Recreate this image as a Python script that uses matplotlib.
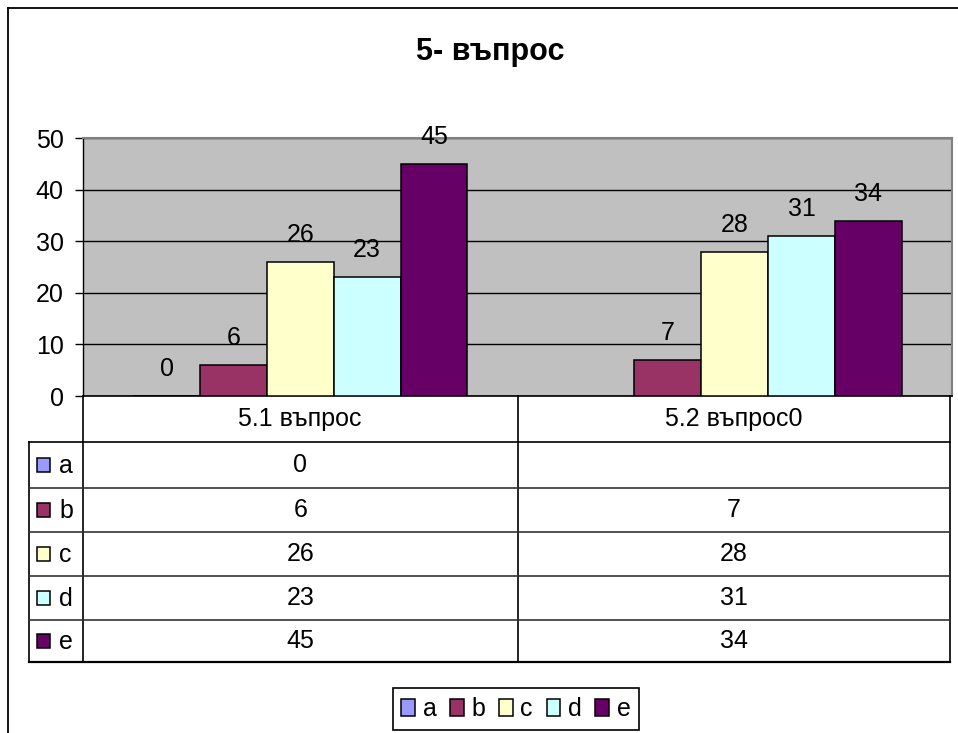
import numpy as np
import matplotlib
matplotlib.use("Agg")
import matplotlib.pyplot as plt
from matplotlib.lines import Line2D
from matplotlib.patches import Rectangle

plt.rcParams['font.family'] = ['Liberation Sans', 'DejaVu Sans']

# ---- data ----
title = "5- въпрос"
categories = ["5.1 въпрос", "5.2 въпрос0"]
series = ["a", "b", "c", "d", "e"]
values_a = [0, None]
values_b = [6, 7]
values_c = [26, 28]
values_d = [23, 31]
values_e = [45, 34]
colors = ["#9999FF", "#993366", "#FFFFCC", "#CCFFFF", "#660066"]
yticks = [0, 10, 20, 30, 40, 50]

all_values = [values_a, values_b, values_c, values_d, values_e]

W, H = 958, 733
fig = plt.figure(figsize=(W / 100, H / 100), dpi=100)
fig.patch.set_facecolor("white")


def fx(x):
    return x / W


def fy(y):
    return 1 - y / H


FS = 18

# chart area border (left and top)
fig.add_artist(Line2D([fx(8), fx(8)], [fy(8), fy(H + 5)], color="black", lw=1.3))
fig.add_artist(Line2D([fx(8), fx(W + 5)], [fy(8), fy(8)], color="black", lw=1.3))

# title
fig.text(fx(490), fy(52), title, ha="center", va="center", fontsize=22, fontweight="bold")

# plot area
L, R, T, B = 83, 952, 138, 396
ax = fig.add_axes([fx(L), fy(B), fx(R - L), (B - T) / H])
ax.set_facecolor("#C0C0C0")
ax.set_xlim(0, len(categories))
ax.set_ylim(0, 50)
ax.set_yticks(yticks)
ax.set_xticks([])
ax.tick_params(axis="y", direction="out", length=5.8, width=1, pad=8, labelsize=FS)
ax.set_axisbelow(True)
ax.yaxis.grid(True, color="black", lw=1)
for s in ["top", "right"]:
    ax.spines[s].set_color("#808080")
    ax.spines[s].set_linewidth(1.5)
ax.spines["left"].set_color("black")
ax.spines["bottom"].set_color("black")
ax.spines["left"].set_linewidth(1)
ax.spines["bottom"].set_linewidth(1.2)

n = len(series)
bw = 1 / (n + 1.5)
handles = []
for i, (name, vals, col) in enumerate(zip(series, all_values, colors)):
    xs, hs = [], []
    for j, v in enumerate(vals):
        if v is None:
            continue
        xs.append(j + 0.5 + (i - (n - 1) / 2) * bw)
        hs.append(v)
    bars = ax.bar(xs, hs, width=bw, color=col, edgecolor="black", linewidth=1.1,
                  label=name, zorder=3)
    handles.append(bars)
    for x, v in zip(xs, hs):
        ax.annotate(str(v), (x, v), xytext=(0, 14.4), textcoords="offset points",
                    ha="center", va="baseline", fontsize=FS, annotation_clip=False,
                    zorder=4)

# data table
row_h = [442, 488, 532, 576, 620, 662]
col_x = [L, 517.5, 950]
TL = 29
lw_t = 1.2
for x in col_x:
    fig.add_artist(Line2D([fx(x), fx(x)], [fy(B), fy(row_h[-1])], color="black", lw=lw_t))
fig.add_artist(Line2D([fx(TL), fx(TL)], [fy(row_h[0]), fy(row_h[-1])], color="black", lw=lw_t))
for k, y in enumerate(row_h):
    c = "black" if k in (0, len(row_h) - 1) else "#333333"
    fig.add_artist(Line2D([fx(TL), fx(col_x[-1])], [fy(y), fy(y)], color=c,
                          lw=lw_t if k != len(row_h) - 1 else 1.6))

for j, cat in enumerate(categories):
    cx = (col_x[j] + col_x[j + 1]) / 2
    fig.text(fx(cx), fy((B + row_h[0]) / 2), cat, ha="center", va="center", fontsize=FS)

for i, (name, vals, col) in enumerate(zip(series, all_values, colors)):
    cy = (row_h[i] + row_h[i + 1]) / 2
    fig.add_artist(Rectangle((fx(37), fy(cy + 7)), 13 / W, 14 / H, facecolor=col,
                             edgecolor="black", lw=1.1, transform=fig.transFigure))
    fig.text(fx(59), fy(cy + 1), name, ha="left", va="center", fontsize=FS)
    for j, v in enumerate(vals):
        if v is None:
            continue
        cx = (col_x[j] + col_x[j + 1]) / 2
        fig.text(fx(cx), fy(cy), str(v), ha="center", va="center", fontsize=FS)

# legend
leg = fig.legend(handles=handles, labels=series, loc="center",
                 bbox_to_anchor=(fx(516), fy(709)), ncol=5, fontsize=FS,
                 handlelength=0.55, handleheight=0.65, handletextpad=0.3,
                 columnspacing=0.55, borderpad=0.35, frameon=True, fancybox=False,
                 edgecolor="black", framealpha=1)
leg.get_frame().set_linewidth(1.2)

fig.savefig("out.png", dpi=100)
